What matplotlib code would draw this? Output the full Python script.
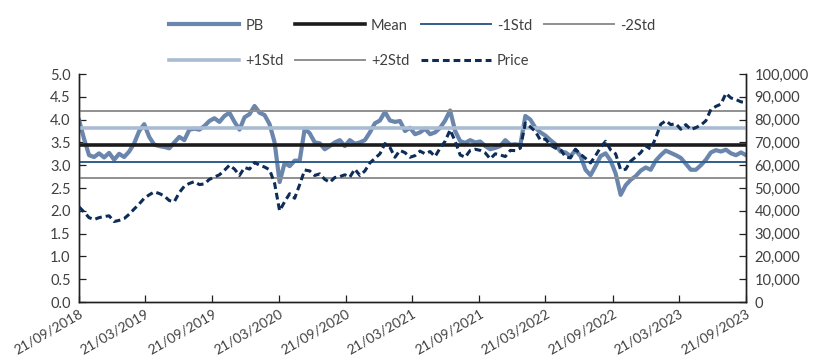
import matplotlib
matplotlib.use("Agg")
import matplotlib.pyplot as plt
import matplotlib.dates as mdates
import matplotlib.ticker as mticker
import pandas as pd

plt.rcParams['font.family'] = ['Lato', 'DejaVu Sans']

start_date = "2018-09-21"
end_date = "2023-09-21"

pb = [3.99, 3.58, 3.22, 3.18, 3.26, 3.17, 3.27, 3.12, 3.25, 3.18,
      3.30, 3.48, 3.75, 3.90, 3.62, 3.45, 3.42, 3.40, 3.37, 3.50,
      3.62, 3.55, 3.78, 3.80, 3.78, 3.86, 3.97, 4.03, 3.95, 4.08,
      4.15, 3.95, 3.78, 4.05, 4.12, 4.30, 4.15, 4.10, 3.90, 3.50,
      2.63, 3.05, 2.98, 3.10, 3.10, 3.80, 3.70, 3.50, 3.48, 3.35,
      3.42, 3.50, 3.55, 3.42, 3.55, 3.47, 3.50, 3.55, 3.72, 3.92,
      3.98, 4.17, 3.98, 3.95, 3.97, 3.75, 3.82, 3.68, 3.72, 3.80,
      3.68, 3.72, 3.82, 3.98, 4.20, 3.75, 3.53, 3.49, 3.55, 3.50,
      3.52, 3.42, 3.35, 3.38, 3.42, 3.55, 3.45, 3.46, 3.44, 4.08,
      4.00, 3.82, 3.72, 3.65, 3.55, 3.46, 3.30, 3.28, 3.20, 3.33,
      3.20, 2.90, 2.78, 2.98, 3.20, 3.26, 3.10, 2.82, 2.35, 2.56,
      2.68, 2.76, 2.88, 2.95, 2.90, 3.10, 3.22, 3.32, 3.27, 3.22,
      3.16, 3.03, 2.90, 2.90, 3.00, 3.12, 3.28, 3.33, 3.30, 3.34,
      3.26, 3.22, 3.28, 3.22]

price = [41700, 39500, 37000, 36200, 37000, 37500, 37800, 35300, 35800, 36600,
         38500, 40800, 43000, 45500, 47000, 48300, 47600, 46500, 44500, 44000,
         48000, 50800, 52000, 52800, 51500, 51800, 53800, 54800, 55800, 57800,
         60000, 58300, 55500, 59000, 58300, 61200, 60000, 59200, 58000, 52000,
         40000, 44000, 47500, 45500, 51500, 57900, 57500, 55500, 56200, 53800,
         52500, 54600, 55000, 55800, 54800, 58300, 55500, 57500, 61000, 63000,
         65000, 69500, 67800, 63500, 66500, 65500, 63500, 64200, 66200, 65000,
         66000, 63800, 67500, 70500, 75500, 70500, 64500, 63500, 66500, 67000,
         66500, 65400, 62800, 65000, 64500, 63800, 66500, 66400, 67500, 78500,
         76800, 74800, 71000, 71500, 68800, 67500, 67000, 63600, 63200, 67000,
         64800, 63000, 61000, 64200, 67800, 70500, 66700, 65000, 58000, 58200,
         61800, 63600, 65500, 68500, 67000, 72000, 78000, 79500, 77800, 78200,
         75800, 77800, 75600, 76500, 77600, 79500, 84500, 85800, 86800, 91500,
         89500, 88800, 87800, 87500]

pb_mean = 3.45
pb_std = 0.37

tick_dates = ["2018-09-21", "2019-03-21", "2019-09-21", "2020-03-21",
              "2020-09-21", "2021-03-21", "2021-09-21", "2022-03-21",
              "2022-09-21", "2023-03-21", "2023-09-21"]

dates = pd.date_range(start_date, end_date, periods=len(pb))

fig = plt.figure(figsize=(8.13, 3.6), dpi=100)
ax = fig.add_axes([0.0972, 0.1611, 0.8204, 0.6333])
ax2 = ax.twinx()

text_color = "#404040"

l_pb, = ax.plot(dates, pb, color="#6b86ad", lw=3.0, label="PB", zorder=2)
l_mean = ax.axhline(pb_mean, color="#1c1c1c", lw=2.6, label="Mean", zorder=3)
l_m1 = ax.axhline(pb_mean - pb_std, color="#2f5f8c", lw=1.4, label="-1Std", zorder=3)
l_m2 = ax.axhline(pb_mean - 2 * pb_std, color="#8f8f8f", lw=1.4, label="-2Std", zorder=3)
l_p1 = ax.axhline(pb_mean + pb_std, color="#aabbd4", lw=2.6, label="+1Std", zorder=3)
l_p2 = ax.axhline(pb_mean + 2 * pb_std, color="#8f8f8f", lw=1.4, label="+2Std", zorder=3)
l_px, = ax2.plot(dates, price, color="#0d2c57", lw=2.2, ls=(0, (2.2, 1.3)),
                 label="Price", zorder=4)

ax.set_xlim(pd.Timestamp(start_date), pd.Timestamp(end_date))
ax.set_ylim(0, 5)
ax2.set_ylim(0, 100000)
ax.yaxis.set_major_locator(mticker.MultipleLocator(0.5))
ax.yaxis.set_major_formatter(mticker.FormatStrFormatter("%.1f"))
ax2.yaxis.set_major_locator(mticker.MultipleLocator(10000))
ax2.yaxis.set_major_formatter(mticker.FuncFormatter(lambda v, p: f"{int(v):,}"))

ax.set_xticks([pd.Timestamp(d) for d in tick_dates])
ax.xaxis.set_major_formatter(mdates.DateFormatter("%d/%m/%Y"))

for a in (ax, ax2):
    a.spines["top"].set_visible(False)
    for s in ("left", "right", "bottom"):
        a.spines[s].set_color("#202020")
        a.spines[s].set_linewidth(1.0)
    a.tick_params(direction="in", length=5, width=0.9, color="#202020",
                  labelsize=10.5, labelcolor=text_color)
ax.tick_params(axis="x", pad=4, labelsize=10)
ax.tick_params(axis="y", pad=6)
ax2.tick_params(axis="y", pad=6)
for lbl in ax.get_xticklabels():
    lbl.set_rotation(30)
    lbl.set_ha("right")
    lbl.set_va("top")
    lbl.set_rotation_mode("anchor")

# legend entries ordered so that columns read row by row
handles = [l_pb, l_p1, l_mean, l_p2, l_m1, l_px, l_m2]
fig.legend(handles=handles, labels=[h.get_label() for h in handles],
           loc="upper center", bbox_to_anchor=(0.507, 0.985), ncol=4,
           frameon=False, fontsize=10.5, handlelength=4.8, columnspacing=0.8,
           handletextpad=0.4, labelspacing=1.45, labelcolor=text_color)

fig.savefig("out.png", dpi=100)
